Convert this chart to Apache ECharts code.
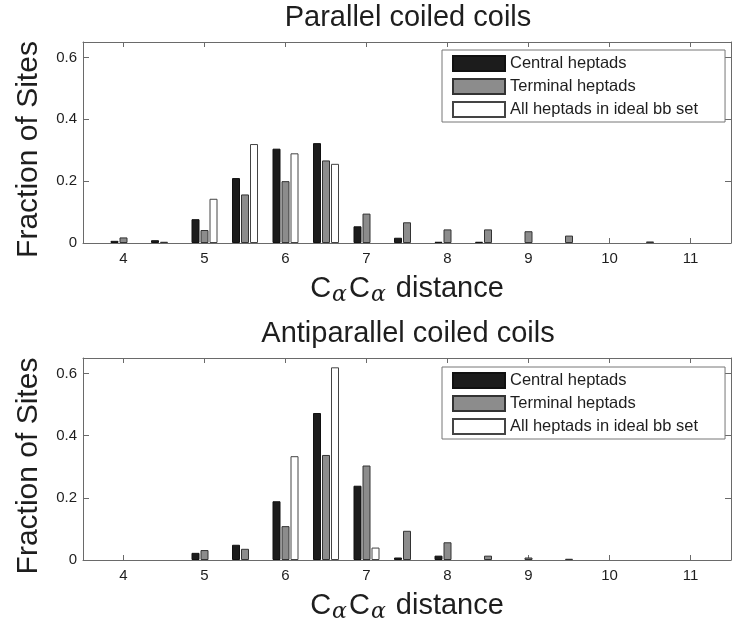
<!DOCTYPE html>
<html><head><meta charset="utf-8">
<script src="https://cdn.jsdelivr.net/npm/echarts@6/dist/echarts.min.js"></script>
<style>html,body{margin:0;padding:0;background:#fff}#c{width:737px;height:635px}</style>
</head><body><div id="c"></div>
<script>
// x categories (CαCα distance bins)
const categories = ['3.5','4','4.5','5','5.5','6','6.5','7','7.5','8','8.5','9','9.5','10','10.5','11','11.5'];
const seriesNames = ['Central heptads', 'Terminal heptads', 'All heptads in ideal bb set'];
const panelTitles = ['Parallel coiled coils', 'Antiparallel coiled coils'];

// Parallel coiled coils
const parallelCentral  = [null,0.007,0.009,0.077,0.210,0.305,0.323,0.054,0.017,0.004,0.004,null,null,null,null,null,null];
const parallelTerminal = [null,0.018,0.004,0.042,0.157,0.200,0.267,0.095,0.067,0.044,0.044,0.038,0.024,null,0.005,null,null];
const parallelIdeal    = [null,null,null,0.143,0.320,0.290,0.256,null,null,null,null,null,null,null,null,null,null];

// Antiparallel coiled coils
const antiCentral  = [null,null,null,0.023,0.049,0.189,0.473,0.239,0.008,0.014,null,null,null,null,null,null,null];
const antiTerminal = [null,null,null,0.032,0.036,0.109,0.338,0.304,0.094,0.057,0.014,0.008,0.004,null,null,null,null];
const antiIdeal    = [null,null,null,null,null,0.334,0.620,0.040,null,null,null,null,null,null,null,null,null];

const FONT = 'Liberation Sans, Arial, sans-serif';
const AX = '#6a6a6a';
const TXT = '#1e1e1e';
const isInt = (i, v) => Number.isInteger(parseFloat(v));

const grids = [
  {left: 83, top: 42, width: 648, height: 201},
  {left: 83, top: 358, width: 648, height: 202}
];
const titleTops = [3, 319];
const legendTops = [50, 367];

const styles = [
  {color: '#1c1c1c', borderColor: '#111', borderWidth: 1},
  {color: '#8c8c8c', borderColor: '#333', borderWidth: 1},
  {color: '#ffffff', borderColor: '#444', borderWidth: 1}
];
const panelData = [
  [parallelCentral, parallelTerminal, parallelIdeal],
  [antiCentral, antiTerminal, antiIdeal]
];

const xAxis = [], yAxis = [], series = [], title = [], legend = [];
grids.forEach((g, gi) => {
  title.push({text: panelTitles[gi], left: 408, textAlign: 'center', top: titleTops[gi], padding: 0,
    textStyle: {fontFamily: FONT, fontSize: 29, fontWeight: 'normal', color: TXT}});
  xAxis.push({
    type: 'category', gridIndex: gi, data: categories, boundaryGap: false, position: 'bottom',
    axisLine: {show: true, onZero: false, lineStyle: {color: AX, width: 1}},
    axisTick: {show: true, inside: true, length: 5, interval: isInt, lineStyle: {color: AX}},
    axisLabel: {show: true, interval: isInt, margin: 8, fontFamily: FONT, fontSize: 15, color: TXT},
    splitLine: {show: false},
    name: '{c|C}{s|α}{c|C}{s|α}{c| distance}', nameLocation: 'middle', nameGap: 29,
    nameTextStyle: {fontFamily: FONT, color: TXT, rich: {
      c: {fontFamily: FONT, fontSize: 29, color: TXT},
      s: {fontFamily: 'DejaVu Serif, serif', fontStyle: 'italic', fontSize: 22, color: TXT, padding: [12, 2, 0, 1]}
    }}
  });
  xAxis.push({
    type: 'category', gridIndex: gi, data: categories, boundaryGap: false, position: 'top',
    axisLine: {show: true, onZero: false, lineStyle: {color: AX, width: 1}},
    axisTick: {show: true, inside: true, length: 5, interval: isInt, lineStyle: {color: AX}},
    axisLabel: {show: false}, splitLine: {show: false}
  });
  yAxis.push({
    type: 'value', gridIndex: gi, min: 0, max: 0.65, interval: 0.2, position: 'left',
    axisLine: {show: true, onZero: false, lineStyle: {color: AX, width: 1}},
    axisTick: {show: true, inside: true, length: 6, lineStyle: {color: AX}},
    axisLabel: {show: true, showMaxLabel: false, margin: 6, fontFamily: FONT, fontSize: 15, color: TXT,
      formatter: v => (v === 0 ? '0' : v.toFixed(1))},
    splitLine: {show: false},
    name: 'Fraction of Sites', nameLocation: 'middle', nameGap: 39, nameRotate: 90,
    nameTextStyle: {fontFamily: FONT, fontSize: 30, color: TXT, padding: [0, 14, 0, 0]}
  });
  yAxis.push({
    type: 'value', gridIndex: gi, min: 0, max: 0.65, interval: 0.2, position: 'right',
    axisLine: {show: true, onZero: false, lineStyle: {color: AX, width: 1}},
    axisTick: {show: true, inside: true, length: 6, lineStyle: {color: AX}},
    axisLabel: {show: false}, splitLine: {show: false}
  });
  seriesNames.forEach((name, si) => {
    series.push({
      type: 'bar', name, xAxisIndex: gi * 2, yAxisIndex: gi * 2,
      data: panelData[gi][si], barWidth: 8, barGap: '12.5%',
      itemStyle: styles[si], animation: false
    });
  });
  legend.push({
    data: seriesNames.map(n => ({name: n, icon: 'rect'})), orient: 'vertical', left: 442, top: legendTops[gi],
    icon: 'rect', itemWidth: 52, itemHeight: 15, itemGap: 6,
    padding: [5, 27, 4, 10], borderColor: '#777', borderWidth: 1, backgroundColor: '#fff',
    selectedMode: false,
    textStyle: {fontFamily: FONT, fontSize: 16.5, color: TXT, lineHeight: 15}
  });
});

const chart = echarts.init(document.getElementById('c'), null, {renderer: 'canvas'});
chart.setOption({
  backgroundColor: '#fff', animation: false,
  title, grid: grids.map(g => Object.assign({containLabel: false}, g)),
  xAxis, yAxis, series, legend
});
</script></body></html>
